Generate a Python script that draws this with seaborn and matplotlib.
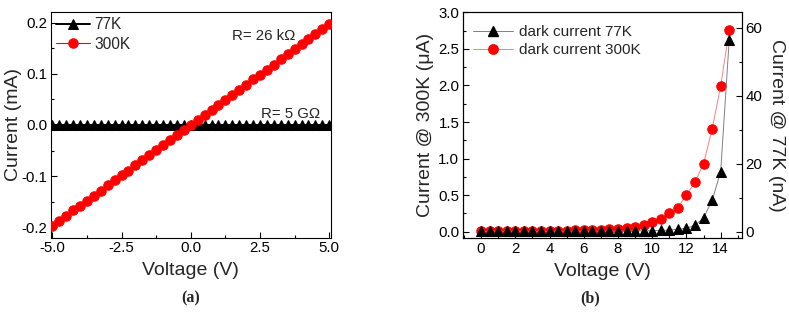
import matplotlib
matplotlib.use("Agg")
import matplotlib.pyplot as plt
import seaborn as sns
from matplotlib.lines import Line2D
from matplotlib.ticker import MultipleLocator, FormatStrFormatter

# (a) I-V curves
volt_a = [-5.0, -4.75, -4.5, -4.25, -4.0, -3.75, -3.5, -3.25, -3.0, -2.75,
          -2.5, -2.25, -2.0, -1.75, -1.5, -1.25, -1.0, -0.75, -0.5, -0.25,
          0.0, 0.25, 0.5, 0.75, 1.0, 1.25, 1.5, 1.75, 2.0, 2.25,
          2.5, 2.75, 3.0, 3.25, 3.5, 3.75, 4.0, 4.25, 4.5, 4.75, 5.0]
cur_300k_a = [-0.197, -0.187, -0.177, -0.167, -0.158, -0.148, -0.138, -0.128, -0.118, -0.108,
              -0.098, -0.089, -0.079, -0.069, -0.059, -0.049, -0.039, -0.030, -0.020, -0.010,
              0.000, 0.010, 0.020, 0.030, 0.039, 0.049, 0.059, 0.069, 0.079, 0.089,
              0.098, 0.108, 0.118, 0.128, 0.138, 0.148, 0.158, 0.167, 0.177, 0.187, 0.197]
cur_77k_a = [-0.000001, -0.000001, -0.000001, -0.000001, -0.000001, -0.000001, -0.000001,
             -0.000001, -0.000001, -0.000001, -0.000001, 0.0, 0.0, 0.0, 0.0, 0.0, 0.0,
             0.0, 0.0, 0.0, 0.0, 0.0, 0.0, 0.0, 0.0, 0.0, 0.0, 0.0, 0.0, 0.0,
             0.000001, 0.000001, 0.000001, 0.000001, 0.000001, 0.000001, 0.000001,
             0.000001, 0.000001, 0.000001, 0.000001]

# (b) dark current
volt_b = [0.0, 0.5, 1.0, 1.5, 2.0, 2.5, 3.0, 3.5, 4.0, 4.5, 5.0, 5.5, 6.0, 6.5, 7.0,
          7.5, 8.0, 8.5, 9.0, 9.5, 10.0, 10.5, 11.0, 11.5, 12.0, 12.5, 13.0, 13.5, 14.0, 14.5]
dark_300k_uA = [0.005, 0.006, 0.007, 0.008, 0.009, 0.010, 0.011, 0.012, 0.013, 0.014,
                0.016, 0.018, 0.020, 0.023, 0.026, 0.030, 0.036, 0.048, 0.065, 0.092,
                0.13, 0.18, 0.25, 0.33, 0.50, 0.68, 0.93, 1.40, 1.99, 2.76]
dark_77k_nA = [0.1, 0.1, 0.1, 0.1, 0.1, 0.1, 0.1, 0.1, 0.1, 0.1,
               0.1, 0.1, 0.1, 0.1, 0.1, 0.1, 0.1, 0.15, 0.2, 0.25,
               0.3, 0.4, 0.5, 0.7, 1.0, 1.9, 4.0, 9.2, 17.6, 56.4]

sns.set_theme(style="ticks")
plt.rcParams["font.family"] = ["Liberation Sans", "DejaVu Sans"]
plt.rcParams["axes.edgecolor"] = "black"
plt.rcParams["axes.linewidth"] = 0.8
plt.rcParams["xtick.color"] = "black"
plt.rcParams["ytick.color"] = "black"

fig = plt.figure(figsize=(7.89, 3.16), dpi=100)
ax_a = fig.add_axes([0.0646, 0.248, 0.3544, 0.713])
ax_b = fig.add_axes([0.5865, 0.246, 0.354, 0.715])

# ---- panel a
sns.lineplot(x=volt_a, y=cur_77k_a, ax=ax_a, color="black", lw=1.4, marker="^",
             markersize=6.5, markeredgecolor="black", label="77K", zorder=3)
sns.lineplot(x=volt_a, y=cur_300k_a, ax=ax_a, color="red", lw=0.8, marker="o",
             markersize=6.8, markeredgecolor="red", label="300K", zorder=4)
ax_a.set_xlim(-5.05, 5.05)
ax_a.set_ylim(-0.22, 0.22)
ax_a.xaxis.set_major_locator(MultipleLocator(2.5))
ax_a.xaxis.set_minor_locator(MultipleLocator(1.25))
ax_a.yaxis.set_major_locator(MultipleLocator(0.1))
ax_a.yaxis.set_minor_locator(MultipleLocator(0.05))
ax_a.xaxis.set_major_formatter(FormatStrFormatter("%.1f"))
ax_a.yaxis.set_major_formatter(FormatStrFormatter("%.1f"))
ax_a.set_xlabel("Voltage (V)", fontsize=14, labelpad=5)
ax_a.set_ylabel("Current (mA)", fontsize=14, labelpad=0)
ax_a.text(1.5, 0.174, "R= 26 kΩ", fontsize=10.8, va="center")
ax_a.text(2.53, 0.022, "R= 5 GΩ", fontsize=10.8, va="center")
ax_a.legend(loc="upper left", frameon=False, fontsize=11.2, handlelength=2.2,
            handletextpad=0.3, borderaxespad=0.1, labelspacing=0.3,
            borderpad=0.2)

# ---- panel b
ax_b2 = ax_b.twinx()
sns.lineplot(x=volt_b, y=dark_300k_uA, ax=ax_b, color="#ff8080", lw=0.7, marker="o",
             markersize=6.8, markerfacecolor="red", markeredgecolor="red",
             legend=False, zorder=3)
sns.lineplot(x=volt_b, y=dark_77k_nA, ax=ax_b2, color="#808080", lw=0.7, marker="^",
             markersize=6.8, markerfacecolor="black", markeredgecolor="black",
             legend=False, zorder=4)
ax_b.set_xlim(-1.07, 15.25)
ax_b.set_ylim(-0.09, 3.0)
ax_b2.set_ylim(-1.94, 64.5)
ax_b.xaxis.set_major_locator(MultipleLocator(2))
ax_b.xaxis.set_minor_locator(MultipleLocator(1))
ax_b.yaxis.set_major_locator(MultipleLocator(0.5))
ax_b.yaxis.set_minor_locator(MultipleLocator(0.25))
ax_b.yaxis.set_major_formatter(FormatStrFormatter("%.1f"))
ax_b2.yaxis.set_major_locator(MultipleLocator(20))
ax_b2.yaxis.set_minor_locator(MultipleLocator(10))
ax_b.set_xlabel("Voltage (V)", fontsize=14, labelpad=5)
ax_b.set_ylabel("Current @ 300K (μA)", fontsize=14, labelpad=3)
ax_b2.set_ylabel("Current @ 77K (nA)", fontsize=14, rotation=270, labelpad=16)
handles = [
    Line2D([], [], color="#808080", lw=0.7, marker="^", markersize=6.8,
           markerfacecolor="black", markeredgecolor="black"),
    Line2D([], [], color="#ff8080", lw=0.7, marker="o", markersize=6.8,
           markerfacecolor="red", markeredgecolor="red"),
]
ax_b.legend(handles, ["dark current 77K", "dark current 300K"], loc="upper left",
            frameon=False, fontsize=11, handlelength=2.6, handletextpad=0.4,
            borderaxespad=0.3, labelspacing=0.25, bbox_to_anchor=(0.0, 0.99))

for ax in (ax_a, ax_b, ax_b2):
    ax.tick_params(which="both", direction="in", labelsize=10.8, width=0.8, pad=2.5)
    ax.tick_params(which="major", length=4)
    ax.tick_params(which="minor", length=2.5)
for ax in (ax_a, ax_b):
    ax.tick_params(which="both", top=False, right=False)
    for s in ax.spines.values():
        s.set_visible(True)
        s.set_color("black")
for s in ax_b2.spines.values():
    s.set_color("black")

fig.text(0.241, 0.057, "(a)", fontsize=11.5, fontweight="bold",
         family=["Liberation Serif", "DejaVu Serif"], ha="center", va="center")
fig.text(0.748, 0.057, "(b)", fontsize=11.5, fontweight="bold",
         family=["Liberation Serif", "DejaVu Serif"], ha="center", va="center")

fig.savefig("out.png", dpi=100)
